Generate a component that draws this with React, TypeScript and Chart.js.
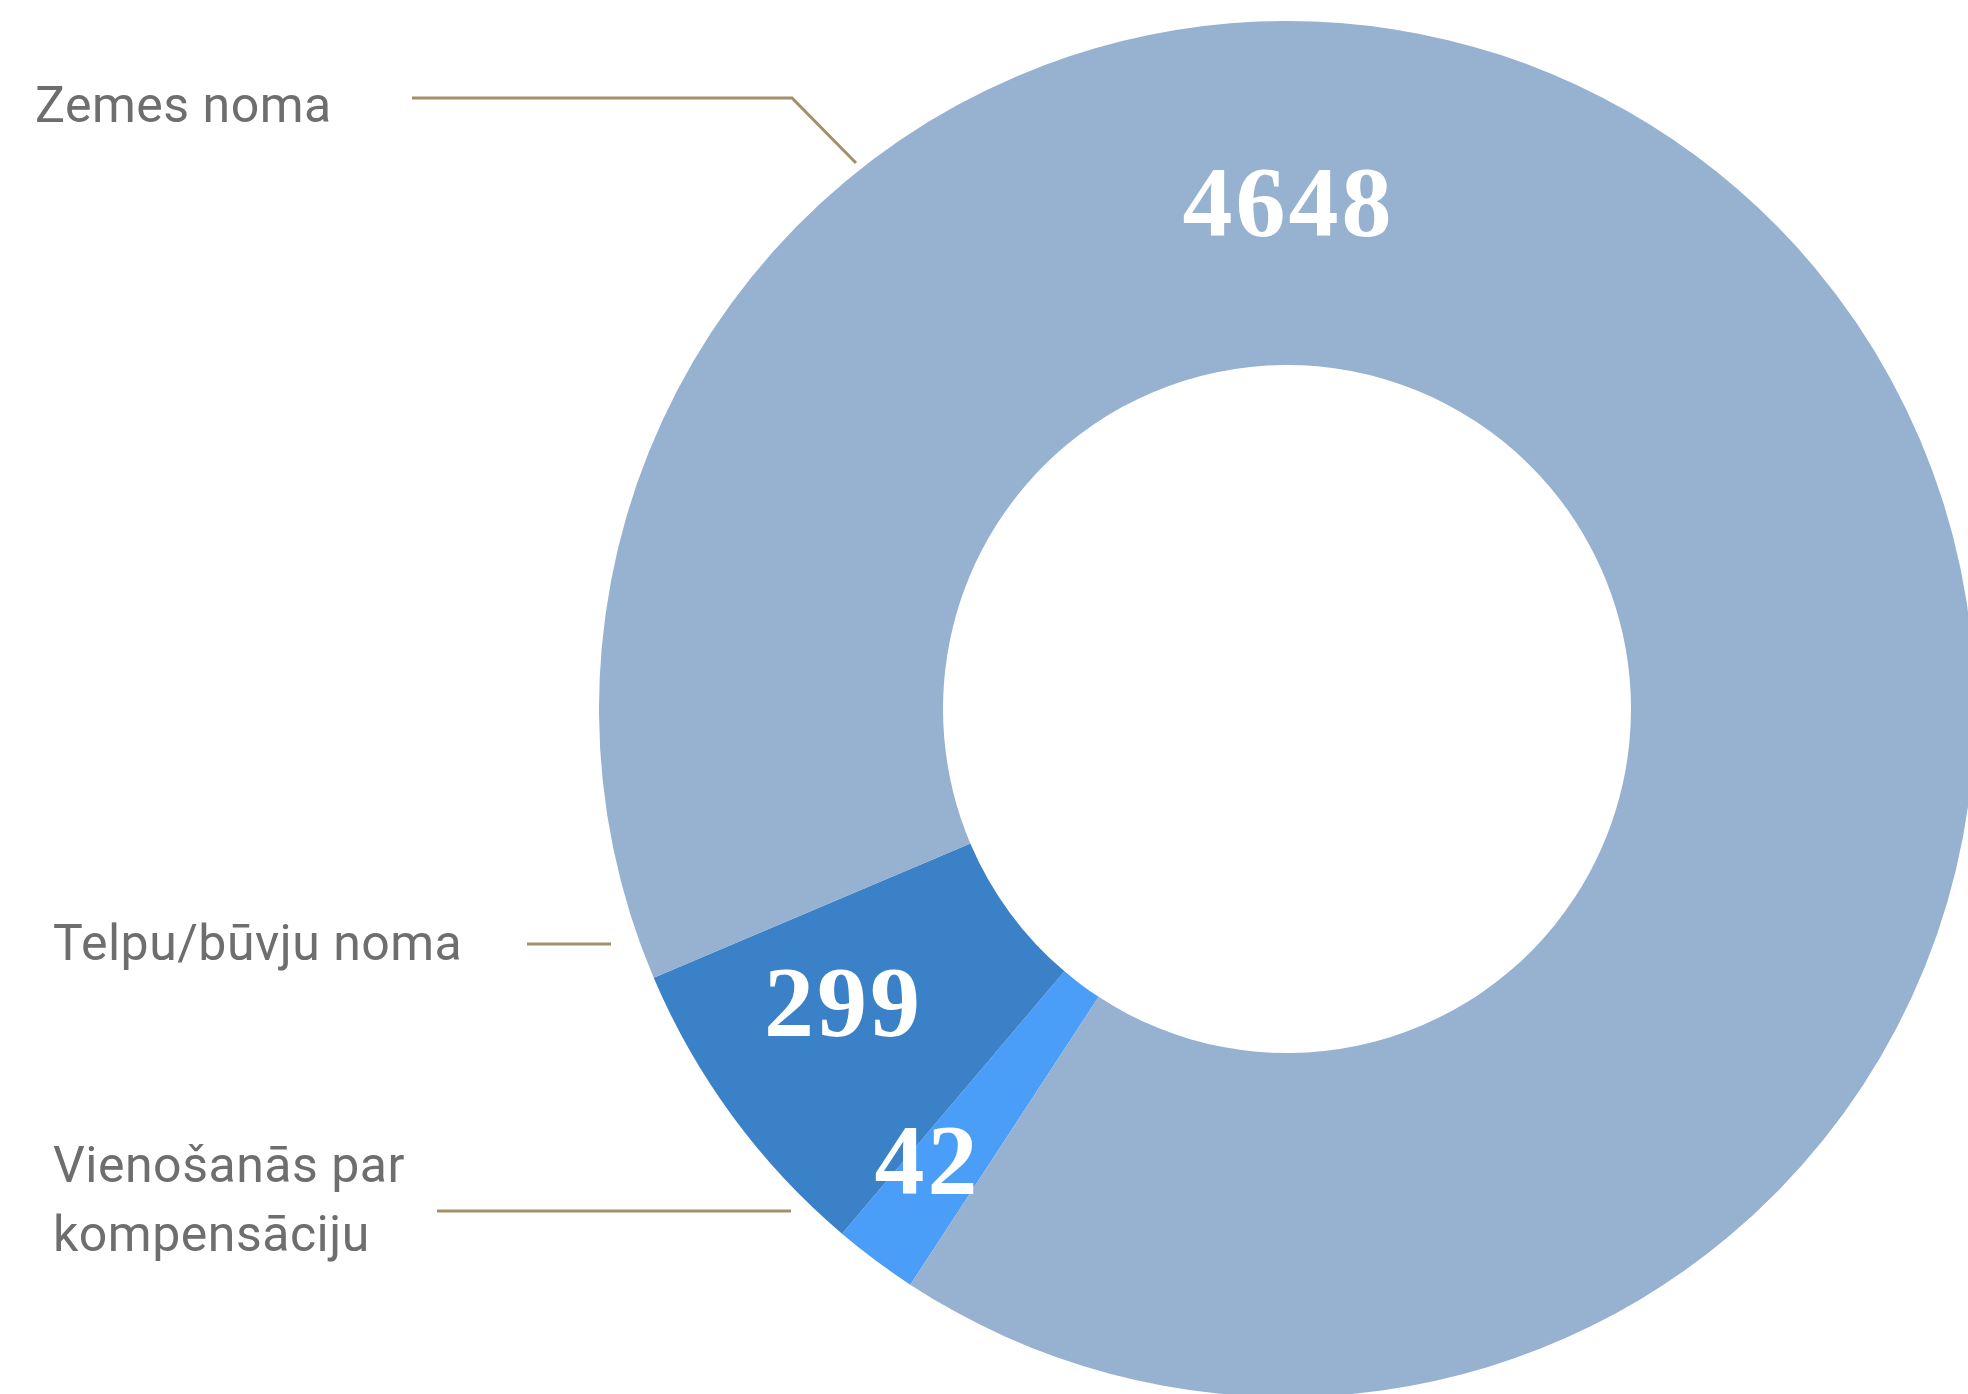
import { useEffect, useRef } from 'react';
import { Chart, registerables } from 'chart.js';

Chart.register(...registerables);

// ---- Data ----
const categories = ['Zemes noma', 'Telpu/būvju noma', 'Vienošanās par kompensāciju'];
// printed values on the slices
const values = [4648, 299, 42];
// angular size of each slice as drawn in the reference (degrees)
const sliceDegrees = [326.2, 26.7, 7.1];
const sliceColors = ['#97b1d0', '#3a81c8', '#4b9ef8'];
// category label lines as written
const categoryLabelLines = [['Zemes noma'], ['Telpu/būvju noma'], ['Vienošanās par', 'kompensāciju']];

// ---- Layout / style config ----
const CANVAS_W = 2000;
const CANVAS_H = 1420;
const START_ANGLE_DEG = 123.2; // canvas angle (clockwise from +x) where drawing starts

// value label placement relative to each slice: angular offset from slice middle (deg), radius as fraction of outer radius
const valueLabelPlacement = [
  { dAngle: -50.1, r: 0.735 },
  { dAngle: 2.9, r: 0.775 },
  { dAngle: 1.9, r: 0.84 },
];

// category callouts (text blocks + leader lines), canvas pixels
const callouts = [
  { x: 35, baselines: [122], line: [[412, 98], [792, 98], [856, 163]] },
  { x: 53, baselines: [960], line: [[527, 944], [611, 944]] },
  { x: 53, baselines: [1182, 1251], line: [[437, 1211], [791, 1211]] },
];

const valueLabelPlugin = {
  id: 'valueLabels',
  afterDatasetsDraw(chart: any) {
    const ctx = chart.ctx as CanvasRenderingContext2D;
    const meta = chart.getDatasetMeta(0);
    const n = values.length;
    ctx.save();
    ctx.fillStyle = '#ffffff';
    ctx.font = 'bold 100px "Liberation Serif", "DejaVu Serif", serif';
    (ctx as any).letterSpacing = '3px';
    ctx.textAlign = 'center';
    ctx.textBaseline = 'alphabetic';
    meta.data.forEach((arc: any, idx: number) => {
      const cat = n - 1 - idx; // dataset is reversed
      const p = arc.getProps(['x', 'y', 'startAngle', 'endAngle', 'outerRadius'], true);
      const place = valueLabelPlacement[cat];
      const mid = (p.startAngle + p.endAngle) / 2 + (place.dAngle * Math.PI) / 180;
      const rr = p.outerRadius * place.r;
      const cx = p.x + Math.cos(mid) * rr;
      const cy = p.y + Math.sin(mid) * rr;
      const text = String(values[cat]);
      const m = ctx.measureText(text);
      const base = cy + (m.actualBoundingBoxAscent - m.actualBoundingBoxDescent) / 2;
      ctx.fillText(text, cx + 1.5, base);
    });
    ctx.restore();
  },
};

const calloutPlugin = {
  id: 'callouts',
  afterDraw(chart: any) {
    const ctx = chart.ctx as CanvasRenderingContext2D;
    ctx.save();
    ctx.font = '400 50px Roboto, "Noto Sans", sans-serif';
    (ctx as any).letterSpacing = '0.5px';
    ctx.fillStyle = '#6e6e6e';
    ctx.textAlign = 'left';
    ctx.textBaseline = 'alphabetic';
    callouts.forEach((c, i) => {
      categoryLabelLines[i].forEach((t, j) => {
        ctx.fillText(t, c.x, c.baselines[j]);
      });
      ctx.beginPath();
      c.line.forEach(([lx, ly], k) => {
        if (k === 0) ctx.moveTo(lx, ly);
        else ctx.lineTo(lx, ly);
      });
      ctx.strokeStyle = '#a38f68';
      ctx.lineWidth = 3;
      ctx.stroke();
    });
    ctx.restore();
  },
};

export default function App() {
  const ref = useRef<HTMLCanvasElement | null>(null);

  useEffect(() => {
    if (!ref.current) return;
    const order = categories.map((_, i) => i).reverse();
    const chart = new Chart(ref.current, {
      type: 'doughnut',
      data: {
        labels: order.map((i) => categories[i]),
        datasets: [
          {
            data: order.map((i) => sliceDegrees[i]),
            backgroundColor: order.map((i) => sliceColors[i]),
            borderWidth: 0,
            hoverBorderWidth: 0,
            hoverOffset: 0,
            offset: 0,
          },
        ],
      },
      options: {
        responsive: false,
        animation: false,
        cutout: '50%',
        rotation: START_ANGLE_DEG + 90,
        layout: {
          padding: { left: 599, top: 21, right: CANVAS_W - 1975, bottom: CANVAS_H - 1397 },
        },
        plugins: {
          legend: { display: false },
          tooltip: { enabled: false },
          title: { display: false },
        },
        events: [],
      },
      plugins: [valueLabelPlugin, calloutPlugin],
    });
    return () => chart.destroy();
  }, []);

  return (
    <div
      style={{
        position: 'fixed',
        left: 0,
        top: 0,
        width: 1968,
        height: 1394,
        overflow: 'hidden',
        background: '#ffffff',
      }}
    >
      <canvas
        ref={ref}
        width={CANVAS_W}
        height={CANVAS_H}
        style={{ display: 'block', width: CANVAS_W, height: CANVAS_H }}
      />
    </div>
  );
}
